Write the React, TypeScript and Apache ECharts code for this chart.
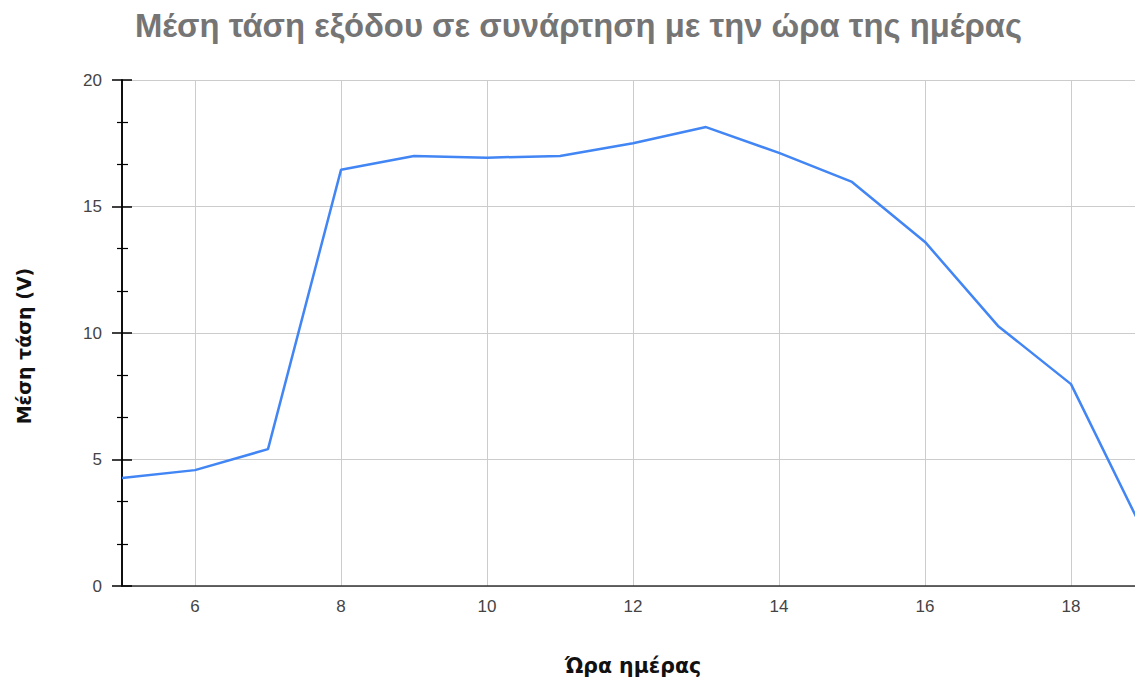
import React, { useEffect, useRef } from "react";
import * as echarts from "echarts";

const hours = [5, 6, 7, 8, 9, 10, 11, 12, 13, 14, 15, 16, 17, 18, 19];
const voltage = [4.27, 4.58, 5.41, 16.45, 17.0, 16.93, 17.0, 17.5, 18.14, 17.12, 15.97, 13.6, 10.28, 7.98, 2.1];
const xTickValues = [6, 8, 10, 12, 14, 16, 18];
const titleText = "Μέση τάση εξόδου σε συνάρτηση με την ώρα της ημέρας";
const xName = "Ώρα ημέρας";
const yName = "Μέση τάση (V)";

const FONT = "'Liberation Sans', Arial, sans-serif";
const NAME_FONT = "'DejaVu Sans', sans-serif";

export default function App() {
  const ref = useRef<HTMLDivElement>(null);
  useEffect(() => {
    if (!ref.current) return;
    const chart = echarts.init(ref.current, undefined, { renderer: "svg" });
    const yBase = {
      type: "value" as const,
      min: 0,
      max: 20,
      interval: 5,
      position: "left" as const,
      axisLine: { show: true, lineStyle: { color: "#000", width: 1.5 } },
      minorTick: { show: true, splitNumber: 3, length: 5, lineStyle: { color: "#000", width: 1.2 } },
      splitLine: { show: false },
    };
    chart.setOption({
      animation: false,
      textStyle: { fontFamily: FONT },
      title: {
        text: titleText,
        left: 130,
        top: 4,
        textStyle: { fontFamily: FONT, fontSize: 32.8, fontWeight: "bold", color: "#757575" },
      },
      grid: { left: 122, right: 1, top: 80, bottom: 95, containLabel: false },
      xAxis: {
        type: "value",
        min: 5,
        max: 19,
        name: xName,
        nameLocation: "middle",
        nameGap: 69,
        nameTextStyle: { fontFamily: NAME_FONT, fontSize: 20.5, fontWeight: "bold", color: "#111" },
        axisLine: { show: true, lineStyle: { color: "#333", width: 1.5 } },
        axisTick: { show: false, customValues: xTickValues },
        axisLabel: { customValues: xTickValues, fontSize: 17, color: "#444", margin: 12, fontFamily: FONT },
        splitLine: { show: true, lineStyle: { color: "#cccccc", width: 1 } },
      },
      yAxis: [
        {
          ...yBase,
          name: yName,
          nameLocation: "middle",
          nameGap: 89,
          nameTextStyle: { fontFamily: NAME_FONT, fontSize: 19, fontWeight: "bold", color: "#111", padding: [0, 0, 0, -26] },
          axisTick: { show: true, inside: false, length: 10, lineStyle: { color: "#000", width: 1.5 } },
          axisLabel: { fontSize: 17, color: "#444", margin: 20, fontFamily: FONT },
          splitLine: { show: true, lineStyle: { color: "#cccccc", width: 1 } },
        },
        {
          ...yBase,
          axisTick: { show: true, inside: true, length: 10, lineStyle: { color: "#000", width: 1.5 } },
          minorTick: { show: true, splitNumber: 3, length: 6, lineStyle: { color: "#000", width: 1.2 } },
          axisLabel: { show: false },
        },
      ],
      series: [
        {
          type: "line",
          data: hours.map((h, i) => [h, voltage[i]]),
          showSymbol: false,
          lineStyle: { color: "#4285F4", width: 2.5 },
          itemStyle: { color: "#4285F4" },
        },
      ],
    });
    return () => chart.dispose();
  }, []);
  return (
    <div style={{ position: "fixed", left: 0, top: 0, width: 1135, height: 681, overflow: "hidden", background: "#fff" }}>
      <div ref={ref} style={{ width: 1145, height: 681 }} />
    </div>
  );
}
